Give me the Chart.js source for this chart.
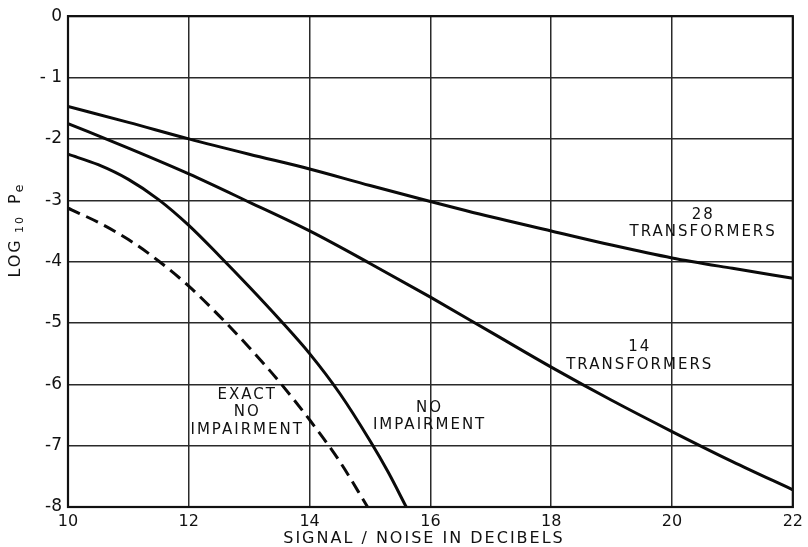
<!DOCTYPE html>
<html>
<head>
<meta charset="utf-8">
<title>Error probability vs. signal-to-noise ratio</title>
<script src="https://cdn.jsdelivr.net/npm/chart.js@4.4.1/dist/chart.umd.min.js"></script>
<style>
  html, body { margin: 0; padding: 0; background: #fff; }
  #wrap { width: 808px; height: 547px; position: relative; }
</style>
</head>
<body>
<div id="wrap"><canvas id="chart" width="808" height="547"></canvas></div>
<script>
// Signal/noise (dB) and log10 of error probability for each curve
const snr28 = [10, 11, 12, 13, 14, 15, 16, 17, 18, 19, 20, 21, 22];
const logPe28 = [-1.47, -1.73, -2.0, -2.25, -2.49, -2.76, -3.02, -3.27, -3.5, -3.73, -3.94, -4.11, -4.27];

const snr14 = [10, 11, 12, 13, 14, 15, 16, 17, 18, 19, 20, 21, 22];
const logPe14 = [-1.75, -2.15, -2.57, -3.03, -3.5, -4.03, -4.58, -5.15, -5.72, -6.26, -6.77, -7.26, -7.72];

const snrNoImp = [10, 10.5, 11, 11.5, 12, 12.5, 13, 13.5, 14, 14.5, 15, 15.3, 15.6];
const logPeNoImp = [-2.25, -2.42, -2.66, -2.99, -3.41, -3.9, -4.41, -4.94, -5.5, -6.15, -6.92, -7.43, -8.0];

const snrExact = [10, 10.5, 11, 11.5, 12, 12.5, 13, 13.5, 14, 14.5, 14.96];
const logPeExact = [-3.13, -3.36, -3.64, -3.99, -4.4, -4.88, -5.4, -5.96, -6.58, -7.26, -8.0];

const xTickLabels = ['10', '12', '14', '16', '18', '20', '22'];
const yTickLabels = ['0', '- 1', '-2', '-3', '-4', '-5', '-6', '-7', '-8'];

// Curve captions: text lines, centred on a data point
const captions = [
  { x: 20.5, y: -3.38, lines: ['28', 'TRANSFORMERS'] },
  { x: 19.45, y: -5.54, lines: ['14', 'TRANSFORMERS'] },
  { x: 12.95, y: -6.46, lines: ['EXACT', 'NO', 'IMPAIRMENT'] },
  { x: 15.97, y: -6.53, lines: ['NO', 'IMPAIRMENT'] }
];

const xTitle = 'SIGNAL / NOISE IN DECIBELS';

const pts = (xs, ys) => xs.map((x, i) => ({ x: x, y: ys[i] }));

const FONT = '"DejaVu Sans", sans-serif';

const annotationPlugin = {
  id: 'annotations',
  afterDatasetsDraw(chart) {
    const { ctx, chartArea, scales } = chart;
    ctx.save();
    // plot frame
    ctx.strokeStyle = '#111';
    ctx.lineWidth = 2.2;
    ctx.strokeRect(chartArea.left, chartArea.top, chartArea.right - chartArea.left, chartArea.bottom - chartArea.top);

    // captions
    ctx.fillStyle = '#111';
    ctx.font = '15px ' + FONT;
    ctx.letterSpacing = '2px';
    ctx.textAlign = 'center';
    ctx.textBaseline = 'middle';
    const lh = 17.5;
    captions.forEach(c => {
      const cx = scales.x.getPixelForValue(c.x);
      const cy = scales.y.getPixelForValue(c.y);
      const n = c.lines.length;
      c.lines.forEach((t, i) => {
        ctx.fillText(t, cx + 1, cy + (i - (n - 1) / 2) * lh);
      });
    });
    ctx.restore();
  },
  afterDraw(chart) {
    const { ctx } = chart;
    ctx.save();
    ctx.fillStyle = '#111';
    // x axis title
    ctx.font = '16px ' + FONT;
    ctx.letterSpacing = '2px';
    ctx.textAlign = 'center';
    ctx.textBaseline = 'middle';
    ctx.fillText(xTitle, 424, 539);

    // y axis title: LOG10 Pe, rotated
    ctx.translate(16, 230);
    ctx.rotate(-Math.PI / 2);
    ctx.textAlign = 'left';
    ctx.textBaseline = 'middle';
    const parts = [
      { t: 'LOG', size: 16, dy: 0 },
      { t: ' ', size: 10, dy: 0 },
      { t: '10', size: 11, dy: 4 },
      { t: '  ', size: 11, dy: 0 },
      { t: 'P', size: 16, dy: 0 },
      { t: 'e', size: 13, dy: 4 }
    ];
    let total = 0;
    parts.forEach(p => { ctx.font = p.size + 'px ' + FONT; total += ctx.measureText(p.t).width; });
    let px = -total / 2;
    parts.forEach(p => {
      ctx.font = p.size + 'px ' + FONT;
      ctx.fillText(p.t, px, p.dy);
      px += ctx.measureText(p.t).width;
    });
    ctx.restore();
  }
};

const curveStyle = {
  borderColor: '#0a0a0a',
  borderWidth: 3,
  pointRadius: 0,
  showLine: true,
  fill: false,
  cubicInterpolationMode: 'monotone'
};

new Chart(document.getElementById('chart'), {
  type: 'scatter',
  data: {
    datasets: [
      Object.assign({ label: '28 TRANSFORMERS', data: pts(snr28, logPe28) }, curveStyle),
      Object.assign({ label: '14 TRANSFORMERS', data: pts(snr14, logPe14) }, curveStyle),
      Object.assign({ label: 'NO IMPAIRMENT', data: pts(snrNoImp, logPeNoImp) }, curveStyle),
      Object.assign({ label: 'EXACT NO IMPAIRMENT', data: pts(snrExact, logPeExact) }, curveStyle, { borderDash: [13, 7] })
    ]
  },
  options: {
    responsive: false,
    animation: false,
    events: [],
    layout: { padding: { top: 15, right: 12, left: 0, bottom: 0 } },
    plugins: {
      legend: { display: false },
      tooltip: { enabled: false }
    },
    scales: {
      x: {
        type: 'linear',
        min: 10,
        max: 22,
        afterFit(scale) { scale.height = 40; },
        afterBuildTicks(scale) {
          scale.ticks = xTickLabels.map(v => ({ value: Number(v) }));
        },
        ticks: {
          callback: (v, i) => xTickLabels[i],
          color: '#111',
          font: { family: FONT, size: 16 },
          padding: 5,
          maxRotation: 0
        },
        grid: { color: '#2a2a2a', lineWidth: 1.5, drawTicks: false },
        border: { display: true, color: '#111', width: 2 }
      },
      y: {
        type: 'linear',
        min: -8,
        max: 0,
        afterFit(scale) { scale.width = 68; },
        afterBuildTicks(scale) {
          scale.ticks = yTickLabels.map((t, i) => ({ value: -i }));
        },
        ticks: {
          callback: (v) => yTickLabels[-v],
          color: '#111',
          font: { family: FONT, size: 17 },
          padding: 6
        },
        grid: { color: '#2a2a2a', lineWidth: 1.5, drawTicks: false },
        border: { display: true, color: '#111', width: 2 }
      }
    }
  },
  plugins: [annotationPlugin]
});
</script>
</body>
</html>
